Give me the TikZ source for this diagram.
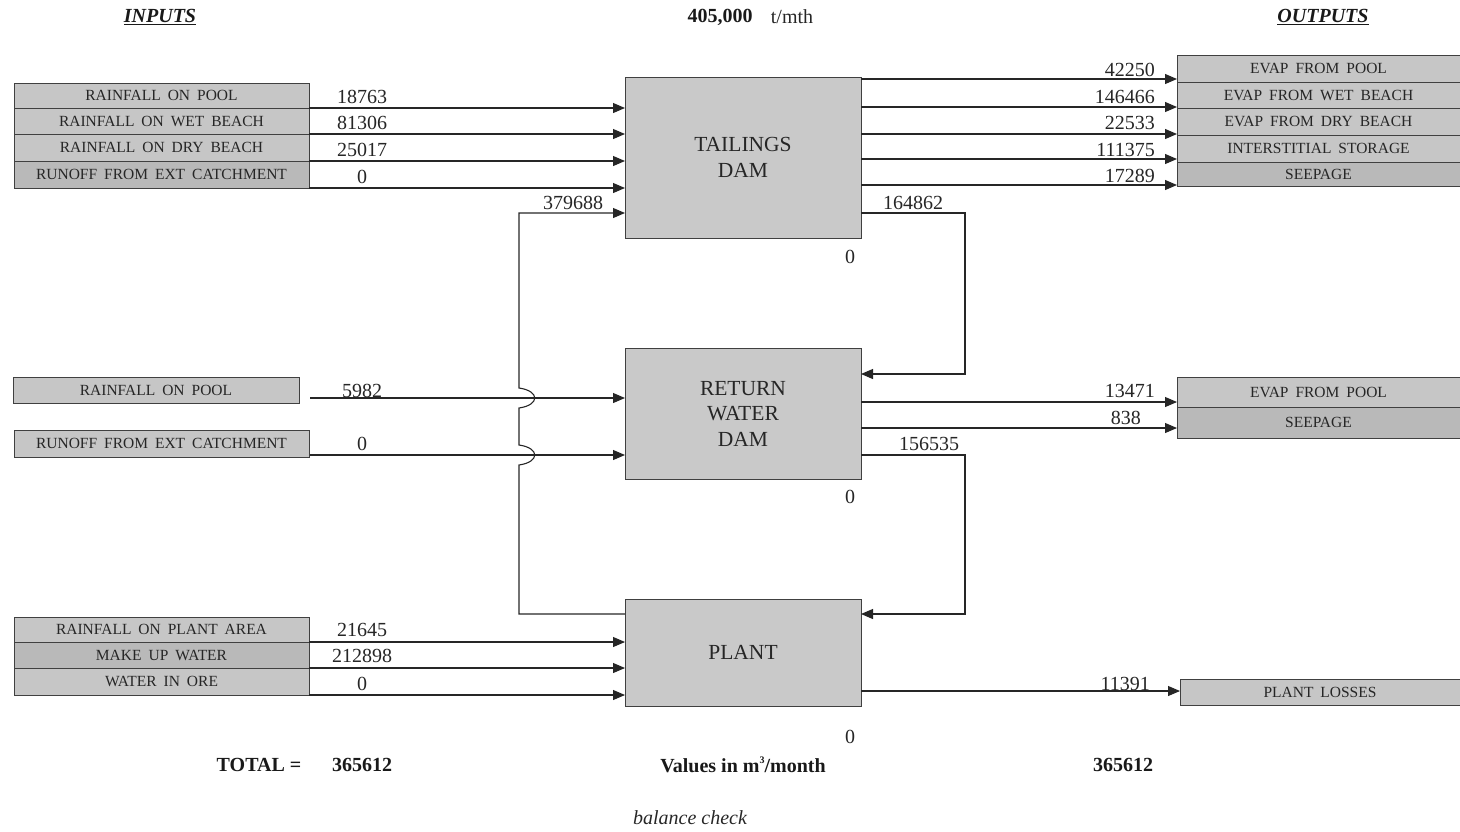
\documentclass[tikz,border=0pt]{standalone}
\usepackage{fontspec}
\setmainfont{Liberation Serif}
\usetikzlibrary{arrows.meta,calc}
\newcommand\wsp{\hspace{0.45em}}
\begin{document}
\begin{tikzpicture}[x=1pt,y=-1pt,
 box/.style={draw=black!75, line width=0.9pt, fill=gray!45, inner sep=0pt, outer sep=0pt, anchor=north west, text=black!85, font=\fontsize{15.5}{15.5}\selectfont},
 dbox/.style={box, fill=gray!55},
 blk/.style={draw=black!75, line width=1pt, fill=gray!42, inner sep=0pt, outer sep=0pt, anchor=north west, align=center, text=black!85, font=\fontsize{21.5}{25.5}\selectfont},
 num/.style={inner sep=0pt, text=black!85, font=\fontsize{20}{20}\selectfont},
 rnum/.style={num, anchor=east},
 hdr/.style={inner sep=0pt, text=black!90, font=\fontsize{20}{20}\selectfont\bfseries},
 arr/.style={draw=black!85, line width=1.1pt, -{Triangle[length=12pt,width=10pt]}},
 ln/.style={draw=black!85, line width=1.1pt}]
\useasboundingbox (0,0) rectangle (1460,831);

% headers
\node[hdr] (hin) at (160,17) {\underline{\textit{INPUTS}}};
\node[hdr] (hout) at (1323,17) {\underline{\textit{OUTPUTS}}};
\node[hdr] (ton) at (720,17) {405,000};
\node[num] (tunit) at (792,17) {t/mth};

% main blocks
\node[blk, minimum width=236, minimum height=161] (td) at (625,77) {TAILINGS\\DAM};
\node[blk, minimum width=236, minimum height=131] (rw) at (625,348) {RETURN\\WATER\\DAM};
\node[blk, minimum width=236, minimum height=107] (pl) at (625,599) {PLANT};

% tailings inputs
\node[box, minimum width=295, minimum height=25] (i1) at (14,83) {RAINFALL\wsp ON\wsp POOL};
\node[box, minimum width=295, minimum height=26] (i2) at (14,108) {RAINFALL\wsp ON\wsp WET\wsp BEACH};
\node[box, minimum width=295, minimum height=27] (i3) at (14,134) {RAINFALL\wsp ON\wsp DRY\wsp BEACH};
\node[dbox, minimum width=295, minimum height=27] (i4) at (14,161) {RUNOFF\wsp FROM\wsp EXT\wsp CATCHMENT};

\draw[arr] (i1.south east) -- (i1.south east -| td.west);
\draw[arr] (i2.south east) -- (i2.south east -| td.west);
\draw[arr] (i3.south east) -- (i3.south east -| td.west);
\draw[arr] (i4.south east) -- (i4.south east -| td.west);
\node[num] (n1) at (362,97) {18763};
\node[num] (n2) at (362,123) {81306};
\node[num] (n3) at (362,150) {25017};
\node[num] (n4) at (362,177) {0};

% tailings outputs
\node[box, minimum width=283, minimum height=27] (o1) at (1177,55) {EVAP\wsp FROM\wsp POOL};
\node[box, minimum width=283, minimum height=26] (o2) at (1177,82) {EVAP\wsp FROM\wsp WET\wsp BEACH};
\node[box, minimum width=283, minimum height=27] (o3) at (1177,108) {EVAP\wsp FROM\wsp DRY\wsp BEACH};
\node[box, minimum width=283, minimum height=27] (o4) at (1177,135) {INTERSTITIAL\wsp STORAGE};
\node[dbox, minimum width=283, minimum height=24] (o5) at (1177,162) {SEEPAGE};

\draw[arr] (td.east |- 0,79) -- (o1.west |- 0,79);
\draw[arr] (td.east |- 0,107) -- (o2.west |- 0,107);
\draw[arr] (td.east |- 0,134) -- (o3.west |- 0,134);
\draw[arr] (td.east |- 0,159) -- (o4.west |- 0,159);
\draw[arr] (td.east |- 0,185) -- (o5.west |- 0,185);
\node[rnum] (m1) at (1155,70) {42250};
\node[rnum] (m2) at (1155,97) {146466};
\node[rnum] (m3) at (1155,123) {22533};
\node[rnum] (m4) at (1155,150) {111375};
\node[rnum] (m5) at (1155,176) {17289};

% tailings -> return water dam
\draw[arr] (td.east |- 0,213) -- (965,213) |- (rw.east |- 0,374);
\node[num] (l164) at (913,203) {164862};
\node[num] (z1) at (850,257) {0};

% return water dam inputs
\node[box, minimum width=286, minimum height=26] (r1) at (13,377) {RAINFALL\wsp ON\wsp POOL};
\node[box, minimum width=295, minimum height=27] (r2) at (14,430) {RUNOFF\wsp FROM\wsp EXT\wsp CATCHMENT};
\draw[arr] (310,398) coordinate (r1s) -- (r1s -| rw.west);
\draw[arr] (310,455) coordinate (r2s) -- (r2s -| rw.west);
\node[num] (n5) at (362,391) {5982};
\node[num] (n6) at (362,444) {0};

% return water dam outputs
\node[box, minimum width=283, minimum height=30] (q1) at (1177,377) {EVAP\wsp FROM\wsp POOL};
\node[dbox, minimum width=283, minimum height=31] (q2) at (1177,407) {SEEPAGE};
\draw[arr] (rw.east |- 0,402) -- (q1.west |- 0,402);
\draw[arr] (rw.east |- 0,428) -- (q2.west |- 0,428);
\node[rnum] (m6) at (1155,391) {13471};
\node[rnum] (m7) at (1141,418) {838};

% return water dam -> plant
\draw[arr] (rw.east |- 0,455) -- (965,455) |- (pl.east |- 0,614);
\node[num] (l156) at (929,444) {156535};
\node[num] (z2) at (850,497) {0};

% plant -> tailings (with line hops)
\draw[arr] (pl.west |- 0,614) -- (519,614) -- (519,465)
  .. controls (540,462) and (540,448) .. (519,445) -- (519,408)
  .. controls (540,405) and (540,391) .. (519,388) -- (519,213) -- (td.west |- 0,213);
\node[num] (l379) at (573,203) {379688};

% plant inputs
\node[box, minimum width=295, minimum height=25] (p1) at (14,617) {RAINFALL\wsp ON\wsp PLANT\wsp AREA};
\node[dbox, minimum width=295, minimum height=26] (p2) at (14,642) {MAKE\wsp UP\wsp WATER};
\node[box, minimum width=295, minimum height=27] (p3) at (14,668) {WATER\wsp IN\wsp ORE};
\draw[arr] (p1.south east) -- (p1.south east -| pl.west);
\draw[arr] (p2.south east) -- (p2.south east -| pl.west);
\draw[arr] (p3.south east) -- (p3.south east -| pl.west);
\node[num] (n7) at (362,630) {21645};
\node[num] (n8) at (362,656) {212898};
\node[num] (n9) at (362,684) {0};

% plant output
\node[box, minimum width=280, minimum height=26] (pls) at (1180,679) {PLANT\wsp LOSSES};
\draw[arr] (pl.east |- 0,691) -- (pls.west |- 0,691);
\node[rnum] (m8) at (1150,684) {11391};
\node[num] (z3) at (850,737) {0};

% totals
\node[hdr] (tot) at (259,765) {TOTAL =};
\node[hdr] (totin) at (362,765) {365612};
\node[hdr] (unit) at (743,765) {Values in m\raisebox{0.45em}{\fontsize{10}{10}\selectfont 3}/month};
\node[hdr] (totout) at (1123,765) {365612};
\node[num, font=\fontsize{20}{20}\selectfont\itshape] (bal) at (690,818) {balance check};
\end{tikzpicture}
\end{document}
